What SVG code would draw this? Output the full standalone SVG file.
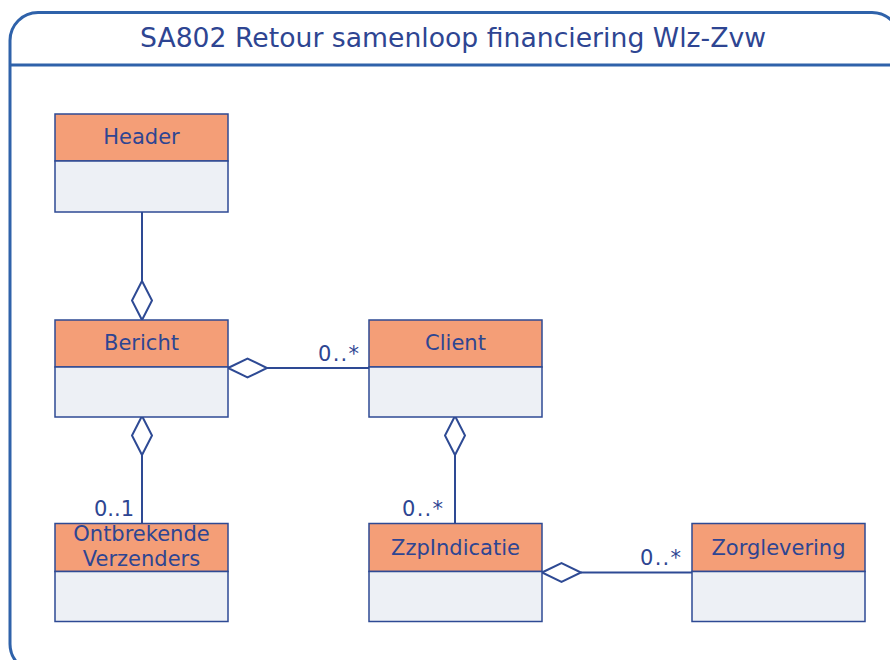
<svg xmlns="http://www.w3.org/2000/svg" width="890" height="660" viewBox="0 0 890 660">
<style>
text{font-family:"DejaVu Sans","Noto Sans",sans-serif;fill:#2E4592;}
.t{font-size:26px;text-anchor:middle;}
.n{font-size:21px;text-anchor:middle;}
.m{font-size:21px;text-anchor:end;}
.hd{fill:#F49E77;stroke:#2E4A94;stroke-width:1.5;}
.bd{fill:#EDF0F5;stroke:#2E4A94;stroke-width:1.5;}
.ln{fill:none;stroke:#2E4A94;stroke-width:2;}
.dm{fill:#FFFFFF;stroke:#2E4A94;stroke-width:2;}
</style>
<rect width="890" height="660" fill="#FFFFFF"/>
<g id="frame">
<rect x="10" y="12.5" width="890" height="659.5" rx="28" ry="28" fill="none" stroke="#2F62AA" stroke-width="3"/>
<line x1="10" y1="65" x2="890" y2="65" stroke="#2F62AA" stroke-width="3"/>
<text class="t" x="453" y="47" textLength="626" lengthAdjust="spacingAndGlyphs">SA802 Retour samenloop financiering Wlz-Zvw</text>
</g>
<g id="connectors">
<line class="ln" x1="142" y1="212" x2="142" y2="281"/>
<polygon class="dm" points="142,281 152,300.5 142,320 132,300.5"/>
<line class="ln" x1="267" y1="368" x2="369" y2="368"/>
<polygon class="dm" points="228,368 247.5,358.5 267,368 247.5,377.5"/>
<line class="ln" x1="142" y1="455" x2="142" y2="523"/>
<polygon class="dm" points="142,416 152,435.5 142,455 132,435.5"/>
<line class="ln" x1="455" y1="455" x2="455" y2="523"/>
<polygon class="dm" points="455,416 465,435.5 455,455 445,435.5"/>
<line class="ln" x1="581" y1="572.5" x2="692" y2="572.5"/>
<polygon class="dm" points="542,572.5 561.5,563 581,572.5 561.5,582"/>
<text class="m" x="359" y="361" textLength="41">0..*</text>
<text class="m" x="134" y="516" textLength="40">0..1</text>
<text class="m" x="443" y="516" textLength="41">0..*</text>
<text class="m" x="681" y="565" textLength="41">0..*</text>
</g>
<g id="Header">
<rect class="hd" x="55" y="114" width="173" height="47"/>
<rect class="bd" x="55" y="161" width="173" height="51"/>
<text class="n" x="141.5" y="144">Header</text>
</g>
<g id="Bericht">
<rect class="hd" x="55" y="320" width="173" height="47"/>
<rect class="bd" x="55" y="367" width="173" height="50"/>
<text class="n" x="141.5" y="350">Bericht</text>
</g>
<g id="Client">
<rect class="hd" x="369" y="320" width="173" height="47"/>
<rect class="bd" x="369" y="367" width="173" height="50"/>
<text class="n" x="455.5" y="350">Client</text>
</g>
<g id="OntbrekendeVerzenders">
<rect class="hd" x="55" y="523.5" width="173" height="48"/>
<rect class="bd" x="55" y="571.5" width="173" height="50"/>
<text class="n" x="141.5" y="541">Ontbrekende</text>
<text class="n" x="141.5" y="566">Verzenders</text>
</g>
<g id="ZzpIndicatie">
<rect class="hd" x="369" y="523.5" width="173" height="48"/>
<rect class="bd" x="369" y="571.5" width="173" height="50"/>
<text class="n" x="455.5" y="555">ZzpIndicatie</text>
</g>
<g id="Zorglevering">
<rect class="hd" x="692" y="523.5" width="173" height="48"/>
<rect class="bd" x="692" y="571.5" width="173" height="50"/>
<text class="n" x="778.5" y="555">Zorglevering</text>
</g>
</svg>
